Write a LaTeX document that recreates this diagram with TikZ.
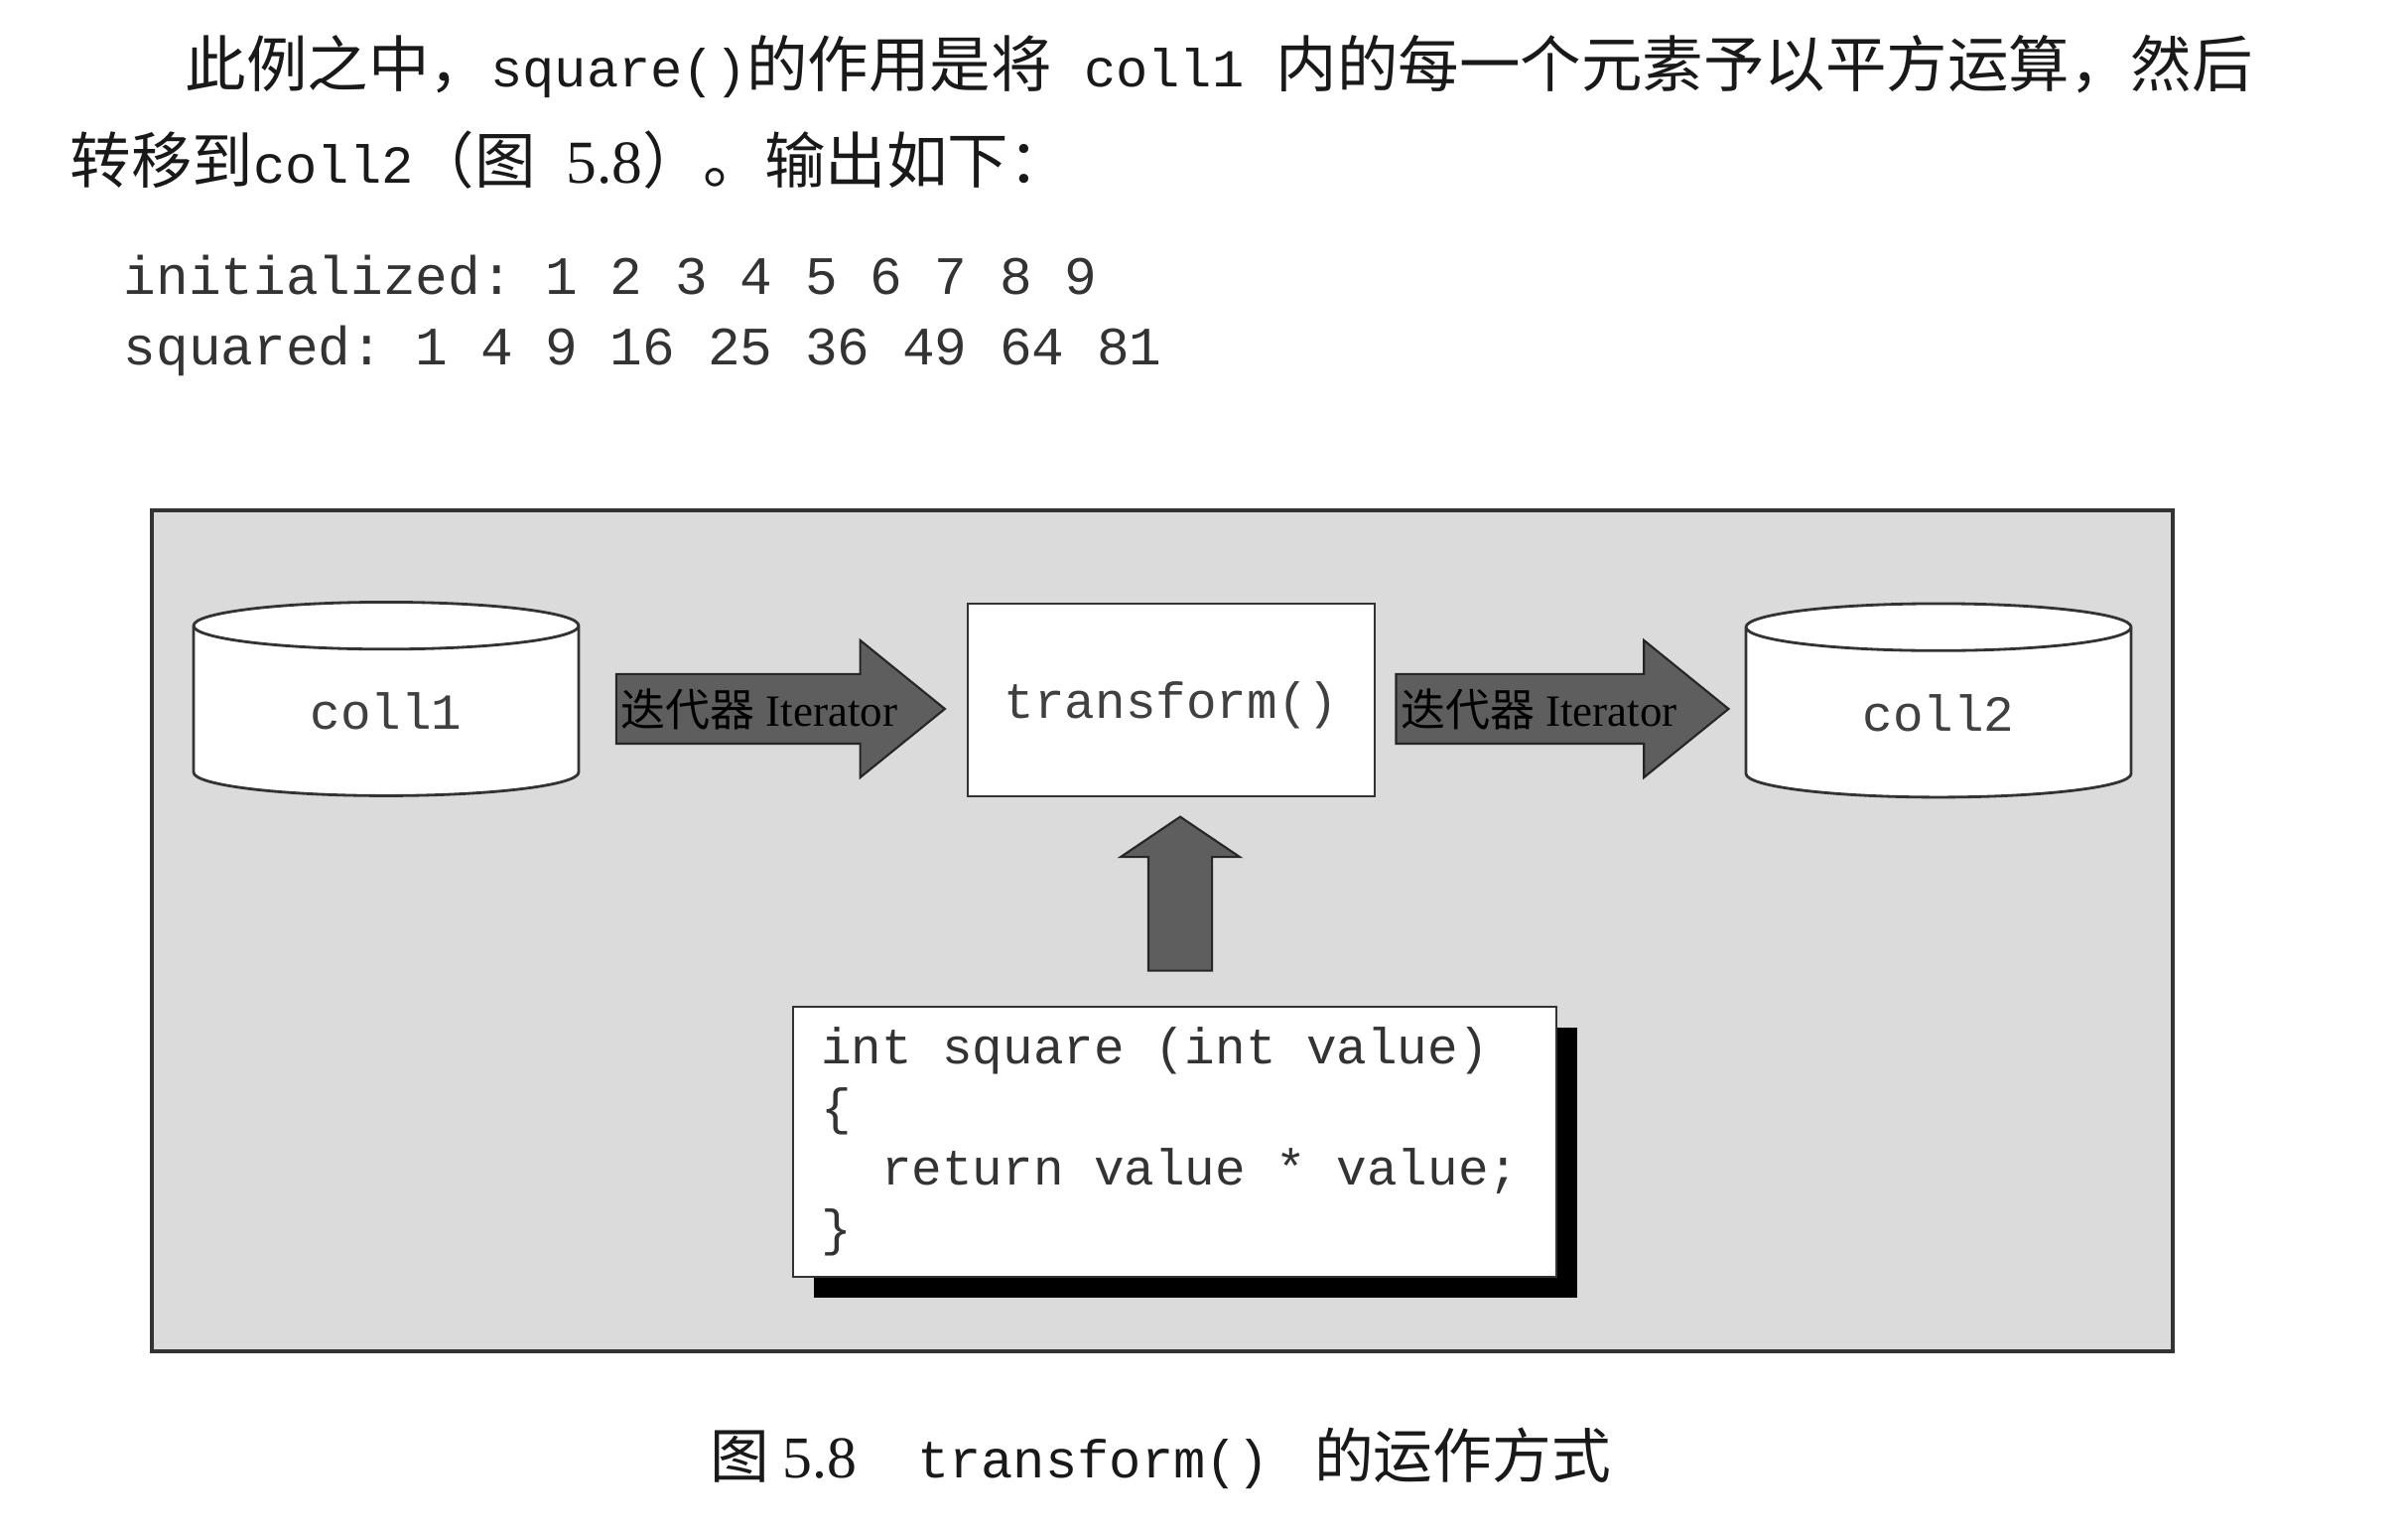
\documentclass[tikz,border=0pt]{standalone}
\usepackage{fontspec}
\setmainfont{Liberation Serif}
\setmonofont{Liberation Mono}
\newfontfamily\cjk{Noto Sans CJK SC}
\usetikzlibrary{shapes.geometric, shapes.arrows, shadows, positioning, calc}

\newcommand\zh[1]{{\cjk #1}}
\newcommand\pmono[1]{{\fontsize{15.3}{18}\selectfont\ttfamily #1}}
\newcommand\diagmono{\fontsize{14.5}{17.3}\selectfont\ttfamily}

\tikzset{
  para/.style={font=\fontsize{17.5}{20}\selectfont, text=black!90, inner sep=0pt},
  output/.style={font=\fontsize{15.5}{18}\selectfont\ttfamily, text=black!80, inner sep=0pt},
  bgframe/.style={draw=black!80, line width=0.9pt, fill=black!14, minimum width=20.36cm, minimum height=8.47cm},
  coll/.style={cylinder, shape border rotate=90, aspect=0.31, draw=black!80, line width=0.8pt, fill=white,
    minimum width=3.88cm, minimum height=1.95cm, inner sep=0pt, font=\diagmono, text=black!75},
  funcbox/.style={draw=black!80, line width=0.8pt, fill=white, minimum width=4.10cm, minimum height=1.94cm,
    inner sep=0pt, font=\diagmono, text=black!75},
  iterarrow/.style={single arrow, draw=black!85, fill=black!63, line width=0.6pt, inner sep=0.34cm,
    minimum height=3.31cm, single arrow head extend=0.34cm, single arrow tip angle=78},
  uparrow/.style={single arrow, draw=black!85, fill=black!63, line width=0.6pt, inner sep=0.31cm,
    minimum height=1.55cm, single arrow head extend=0.28cm, single arrow tip angle=112},
  itertext/.style={font=\fontsize{12.8}{15}\selectfont, text=black, inner sep=0pt},
  codebox/.style={draw=black!80, line width=0.8pt, fill=white, minimum width=7.69cm, minimum height=2.72cm,
    text width=7.13cm, align=left, inner xsep=0.28cm, inner ysep=0pt, font=\diagmono, text=black!80,
    execute at begin node={\spaceskip=.6em\relax\xspaceskip=.6em\relax},
    drop shadow={shadow xshift=0.21cm, shadow yshift=-0.21cm, fill=black, opacity=1}},
  caption/.style={font=\fontsize{17}{20}\selectfont, text=black!90, inner sep=0pt}
}

\begin{document}
\begin{tikzpicture}
\useasboundingbox (0,0) rectangle (24.26,15.42);

% text above the figure
\node[para, anchor=base west] (line1) at (1.86,14.54)
  {\zh{此例之中，}\pmono{square()}\zh{的作用是将}\pmono{\ coll1\ }\zh{内的每一个元素予以平方运算，然后}};
\node[para, anchor=base west] (line2) at (0.70,13.57)
  {\zh{转移到}\pmono{coll2}\zh{（图}\enspace5.8\zh{）。输出如下：}};
\node[output, anchor=base west] (out1) at (1.24,12.45) {initialized: 1 2 3 4 5 6 7 8 9};
\node[output, anchor=base west] (out2) at (1.24,11.74) {squared: 1 4 9 16 25 36 49 64 81};

% figure
\node[bgframe] (frame) at (11.71,6.045) {};

\node[coll] (c1) at (3.89,8.255) {coll1};
\node[funcbox] (tf) at (11.80,8.37) {\raisebox{-0.05cm}[\height][\depth]{transform()}};
\node[coll] (c2) at (19.53,8.24) {coll2};

\node[iterarrow, anchor=tip] (it1) at ($(tf.west)+(-0.20,-0.09)$) {};
\node[iterarrow, minimum height=3.35cm, anchor=tail] (it2) at ($(tf.east)+(0.19,-0.09)$) {};
\node[itertext, anchor=west] (lab1) at ($(it1.tail)+(0.05,0)$) {\zh{迭代器} Iterator};
\node[itertext, anchor=west] (lab2) at ($(it2.tail)+(0.05,0)$) {\zh{迭代器} Iterator};

\node[uparrow, rotate=90, anchor=tip] (up) at ($(tf.south)+(0.09,-0.18)$) {};

\node[codebox] (code) at (11.835,3.92)
  {int square (int value)\\ \{\\ \hphantom{re}return value * value;\\ \}};

% caption
\node[caption, anchor=base west] (cap) at (7.15,0.54)
  {\zh{图}\hspace{0.13cm}5.8\hspace{0.61cm}\pmono{transform()}\hspace{0.45cm}\zh{的运作方式}};
\end{tikzpicture}
\end{document}
